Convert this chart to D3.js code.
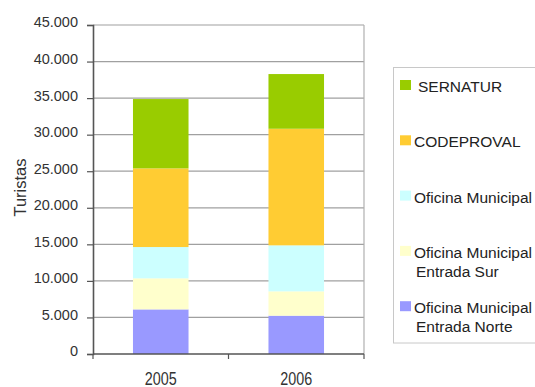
<!DOCTYPE html>
<html>
<head>
<meta charset="utf-8">
<script src="https://cdn.jsdelivr.net/npm/d3@7/dist/d3.min.js"></script>
<style>
  html, body { margin: 0; padding: 0; background: #fff; }
  svg { display: block; font-family: "Liberation Sans", Arial, sans-serif; }
</style>
</head>
<body>
<svg id="chart" width="535" height="387"></svg>
<script>
// Visitors per year, stacked by information office
const years = ["2005", "2006"];
const seriesNames = ["Norte", "Sur", "Municipal", "CODEPROVAL", "SERNATUR"];
const norte = [6100, 5240];
const sur = [4250, 3330];
const municipal = [4280, 6290];
const codeproval = [10760, 15950];
const sernatur = [9480, 7480];
const legendLabels = [
  ["Oficina Municipal", "Entrada Norte"],
  ["Oficina Municipal", "Entrada Sur"],
  ["Oficina Municipal"],
  ["CODEPROVAL"],
  ["SERNATUR"]
];
const colors = ["#9999ff", "#ffffcc", "#ccffff", "#ffcc33", "#99cc00"];
const yTicks = [0, 5000, 10000, 15000, 20000, 25000, 30000, 35000, 40000, 45000];

const rows = years.map((y, i) => ({
  year: y,
  Norte: norte[i], Sur: sur[i], Municipal: municipal[i],
  CODEPROVAL: codeproval[i], SERNATUR: sernatur[i]
}));

const svg = d3.select("#chart");
const plot = { left: 93, right: 364, top: 25, bottom: 354 };

const x = d3.scaleBand().domain(years).range([plot.left, plot.right])
  .paddingInner(0.59).paddingOuter(0.295);
const xOuter = d3.scaleBand().domain(years).range([plot.left, plot.right]);
const y = d3.scaleLinear().domain([0, 45000]).range([plot.bottom, plot.top]);
const color = d3.scaleOrdinal().domain(seriesNames).range(colors);

const fmt = d3.formatLocale({ decimal: ",", thousands: ".", grouping: [3], currency: ["", ""] }).format(",");

// Horizontal gridlines
svg.append("g").selectAll("line").data(yTicks.filter(t => t > 0)).join("line")
  .attr("x1", plot.left).attr("x2", plot.right)
  .attr("y1", d => y(d)).attr("y2", d => y(d))
  .attr("stroke", "#a0a0a0").attr("stroke-width", 1.2);

// Right border of plot area
svg.append("line")
  .attr("x1", plot.right).attr("x2", plot.right)
  .attr("y1", plot.top).attr("y2", plot.bottom)
  .attr("stroke", "#b0b0b0").attr("stroke-width", 1.2);

// Stacked bars
const stacked = d3.stack().keys(seriesNames)(rows);
svg.append("g").selectAll("g").data(stacked).join("g")
  .attr("fill", d => color(d.key))
  .selectAll("rect").data(d => d).join("rect")
  .attr("x", d => x(d.data.year))
  .attr("width", x.bandwidth())
  .attr("y", d => y(d[1]))
  .attr("height", d => y(d[0]) - y(d[1]));

// Y axis
const yAxis = d3.axisLeft(y).tickValues(yTicks).tickFormat(fmt).tickSize(6).tickPadding(9);
const gy = svg.append("g").attr("transform", `translate(${plot.left},0)`).call(yAxis);
gy.select(".domain").attr("stroke", "#555").attr("stroke-width", 1.6);
gy.selectAll(".tick line").attr("stroke", "#555").attr("stroke-width", 1.2);
gy.selectAll(".tick text")
  .attr("font-size", 14.5).attr("fill", "#333")
  .attr("font-family", "Liberation Sans, Arial, sans-serif")
  .attr("dy", "0.13em");

// X axis baseline with category separators
const gx = svg.append("g");
gx.append("line")
  .attr("x1", plot.left).attr("x2", plot.right)
  .attr("y1", plot.bottom).attr("y2", plot.bottom)
  .attr("stroke", "#555").attr("stroke-width", 1.6);
const seps = [plot.left].concat(years.map(d => xOuter(d) + xOuter.bandwidth()));
gx.selectAll("line.sep").data(seps).join("line").attr("class", "sep")
  .attr("x1", d => d).attr("x2", d => d)
  .attr("y1", plot.bottom).attr("y2", plot.bottom + 5)
  .attr("stroke", "#555").attr("stroke-width", 1.2);
gx.selectAll("g.lab").data(years).join("g").attr("class", "lab")
  .attr("transform", d => `translate(${x(d) + x.bandwidth() / 2},385)`)
  .append("text")
  .attr("transform", "scale(0.82,1)")
  .attr("text-anchor", "middle")
  .attr("font-size", 17.5).attr("fill", "#333")
  .text(d => d);

// Y axis title
svg.append("text")
  .attr("transform", "translate(26,187.5) rotate(-90)")
  .attr("text-anchor", "middle")
  .attr("font-size", 16.5).attr("fill", "#333")
  .text("Turistas");

// Legend
const legend = svg.append("g");
legend.append("rect")
  .attr("x", 393.5).attr("y", 67.5).attr("width", 160).attr("height", 275.5)
  .attr("fill", "#fff").attr("stroke", "#c8c8c8").attr("stroke-width", 1);
const order = seriesNames.slice().reverse();
const items = legend.selectAll("g.item").data(order).join("g").attr("class", "item")
  .attr("transform", (d, i) => `translate(400,${80 + i * 55.3})`);
items.append("rect").attr("width", 11).attr("height", 10)
  .attr("fill", d => color(d));
items.each(function (d) {
  const lines = legendLabels[seriesNames.indexOf(d)];
  const t = d3.select(this).append("text")
    .attr("font-size", 15.5).attr("fill", "#222");
  lines.forEach((ln, j) => {
    t.append("tspan")
      .attr("x", j === 0 ? (lines.length === 1 && d === "SERNATUR" ? 18 : 14) : 16)
      .attr("y", 12 + j * 19)
      .text(ln);
  });
});
</script>
</body>
</html>
